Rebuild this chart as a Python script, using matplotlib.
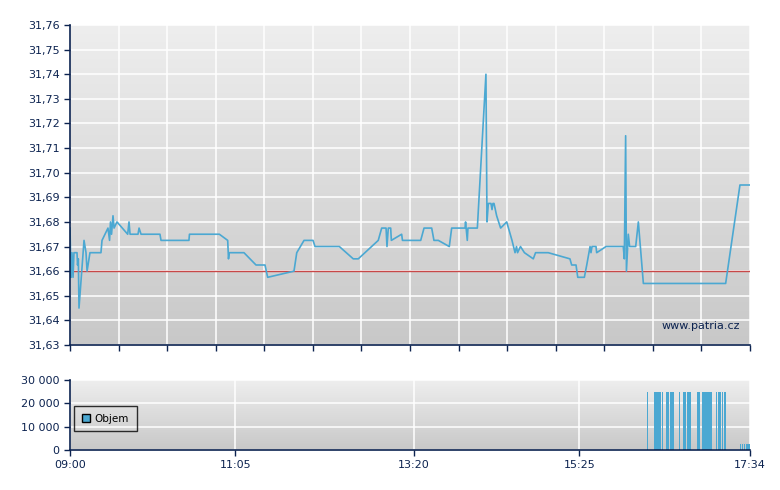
# %% imports

import numpy as np
import matplotlib
matplotlib.use('Agg')
import matplotlib.pyplot as plt
from matplotlib.patches import Patch
from matplotlib.ticker import FixedLocator, FuncFormatter

# %% data (minutes after 09:00)

price_min = [0, 0.76, 1.5, 2.3, 3.0, 5.3, 5.7, 6.3, 6.8, 10.6, 12.1, 12.9, 15.1, 23.4,
             24.2, 28.7, 29.9, 30.6, 31.4, 32.5, 33.3, 35.5, 43.6, 44.6, 45.4, 51.4,
             52.2, 53.7, 68.0, 68.8, 89.9, 90.3, 112.9, 119.2, 119.8, 120.4, 131.5,
             140.6, 147.4, 149.4, 169.3, 171.4, 176.9, 183.7, 185.2, 203.6, 214.1,
             217.9, 233.0, 235.6, 238.9, 239.6, 240.6, 242.4, 242.9, 250.7, 251.3,
             265.1, 267.6, 273.4, 275.1, 278.4, 286.7, 288.5, 298.6, 299.0, 300.3,
             300.8, 307.9, 314.4, 315.2, 316.2, 318.2, 319.0, 319.7, 320.5, 322.5,
             325.5, 330.1, 334.1, 336.4, 337.5, 338.3, 340.5, 343.5, 350.2, 351.9,
             361.5, 377.9, 379.2, 382.5, 383.8, 388.8, 390.6, 393.1, 393.8, 394.6,
             397.6, 398.1, 405.2, 418.2, 419.0, 420.0, 420.6, 422.0, 423.0, 427.6,
             429.6, 433.4, 495.6, 506.4, 514.0]
price = [31.6775, 31.6575, 31.6675, 31.6575, 31.6675, 31.6675, 31.6625, 31.665, 31.645,
         31.6725, 31.6675, 31.66, 31.6675, 31.6675, 31.6725, 31.6775, 31.6725, 31.68,
         31.675, 31.6825, 31.6775, 31.68, 31.675, 31.68, 31.675, 31.675, 31.6775,
         31.675, 31.675, 31.6725, 31.6725, 31.675, 31.675, 31.6725, 31.665, 31.6675,
         31.6675, 31.6625, 31.6625, 31.6575, 31.66, 31.6675, 31.6725, 31.6725, 31.67,
         31.67, 31.665, 31.665, 31.6725, 31.6775, 31.6775, 31.67, 31.6775, 31.6775,
         31.6725, 31.675, 31.6725, 31.6725, 31.6775, 31.6775, 31.6725, 31.6725, 31.67,
         31.6775, 31.6775, 31.68, 31.6725, 31.6775, 31.6775, 31.74, 31.68, 31.6875,
         31.6875, 31.685, 31.6875, 31.6875, 31.6825, 31.6775, 31.68, 31.6725, 31.6675,
         31.67, 31.6675, 31.67, 31.6675, 31.665, 31.6675, 31.6675, 31.665, 31.6625,
         31.6625, 31.6575, 31.6575, 31.6625, 31.67, 31.6675, 31.67, 31.67, 31.6675,
         31.67, 31.67, 31.665, 31.715, 31.66, 31.675, 31.67, 31.67, 31.68, 31.655,
         31.655, 31.695, 31.695]

prev_close = 31.66

vol_min = [433.1, 436.4, 442, 443, 444, 445, 446, 447.7, 451, 452, 454, 455, 456, 460.5,
           464, 465, 466.6, 468, 469, 474.5, 475.5, 476, 478, 479, 480, 481, 482, 483,
           484, 485, 488.5, 490.5, 491.5, 493, 494.5, 495.5,
           506.6, 508.2, 509.8, 511.2, 512.2, 513.3]
vol = [25000] * 36 + [2500] * 6
vol_width = [0.3, 0.3] + [1.0] * 34 + [1.0] * 6

time_labels = ['09:00', '11:05', '13:20', '15:25', '17:34']
time_label_min = [0, 125, 260, 385, 514]

# %% style

NAVY = '#0c2350'
LINE = '#4ba8d2'
T_END = 514

fig = plt.figure(figsize=(7.8, 4.9), dpi=100)
ax = fig.add_axes([70 / 780, 1 - 345 / 490, 680 / 780, 320 / 490])
axv = fig.add_axes([70 / 780, 1 - 450 / 490, 680 / 780, 70 / 490])

grad = np.linspace(0, 1, 256).reshape(-1, 1)
bg_cmap = matplotlib.colors.LinearSegmentedColormap.from_list('bg', ['#eeeeee', '#c8c8c8'])
for a, (y0, y1) in zip([ax, axv], [(31.63, 31.76), (0, 30000)]):
    a.imshow(grad, cmap=bg_cmap, extent=[0, T_END, y0, y1],
             aspect='auto', origin='upper', zorder=0)
    a.set_xlim(0, T_END)
    a.set_ylim(y0, y1)
    for s in ['top', 'right']:
        a.spines[s].set_visible(False)
    for s in ['left', 'bottom']:
        a.spines[s].set_color(NAVY)
        a.spines[s].set_linewidth(1.2)
        a.spines[s].set_zorder(5)
    a.tick_params(colors=NAVY, labelcolor=NAVY, labelsize=8, length=4, width=1)
    a.set_axisbelow(True)
    a.grid(True, color='white', linewidth=1.1)

# %% price panel

ax.set_yticks(np.arange(31.63, 31.7601, 0.01))
ax.yaxis.set_major_formatter(FuncFormatter(lambda v, p: ('%.2f' % v).replace('.', ',')))
ax.xaxis.set_major_locator(FixedLocator(np.linspace(0, T_END, 15)))
ax.set_xticklabels([])
ax.axhline(prev_close, color='#c84848', linewidth=1, zorder=3)
ax.plot(price_min, price, color=LINE, linewidth=1.2, zorder=4)
ax.text(0.985, 0.06, 'www.patria.cz', transform=ax.transAxes, ha='right', va='center',
        color=NAVY, fontsize=8, zorder=4)

# %% volume panel

axv.bar(vol_min, vol, width=vol_width, color=LINE, linewidth=0, zorder=3)
axv.set_yticks([0, 10000, 20000, 30000])
axv.yaxis.set_major_formatter(FuncFormatter(lambda v, p: '{:,.0f}'.format(v).replace(',', ' ')))
axv.set_xticks(time_label_min)
axv.set_xticklabels(time_labels)
leg = axv.legend(handles=[Patch(facecolor=LINE, edgecolor='black', label='Objem')],
                 loc='center left', bbox_to_anchor=(0.0, 0.45), fontsize=7.5,
                 frameon=True, fancybox=False, handlelength=0.8, handleheight=0.8,
                 handletextpad=0.4, borderpad=0.75, borderaxespad=0.4)
leg.get_frame().set_edgecolor('black')
leg.get_frame().set_facecolor('none')
leg.get_frame().set_linewidth(1)

fig.savefig('out.png', dpi=100)
